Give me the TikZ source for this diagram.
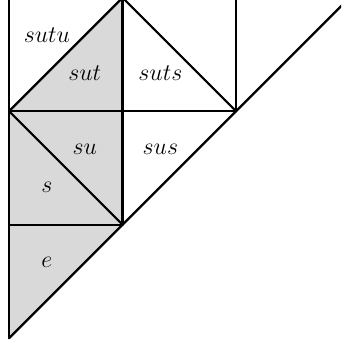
\documentclass[tikz,border=0pt]{standalone}
\begin{document}
\begin{tikzpicture}[
    x=2cm, y=2cm,
    wall/.style={line width=1.1pt, line cap=round, line join=round},
    alcove/.style={fill=black!15},
    wordlbl/.style={font=\large, inner sep=1pt},
  ]
  \useasboundingbox (-0.08,-0.06) rectangle (2.925,2.98);
  \clip (-0.08,-0.06) rectangle (2.925,2.98);

  % ===== shaded alcoves =====
  \fill[alcove] (0,0) -- (1,1) -- (1,3) -- (0,2) -- cycle;

  % ===== walls =====
  \draw[wall] (0,0) -- (3,3);                     % main diagonal
  \foreach \x in {0,1,2} \draw[wall] (\x,\x) -- (\x,3.2);
  \foreach \y in {1,2}   \draw[wall] (0,\y) -- (\y,\y);
  \draw[wall] (0,2) -- (1,3) -- (2,2);
  \draw[wall] (0,2) -- (1,1);

  % ===== words (at triangle centroids, in thirds) =====
  \foreach \i/\j/\w in {%
      1/2/e, 1/4/s, 2/5/su, 4/5/sus,
      2/7/sut, 4/7/suts, 1/8/sutu} {
    \node[wordlbl] (w-\w) at (\i/3, \j/3) {$\w$};
  }
\end{tikzpicture}
\end{document}
